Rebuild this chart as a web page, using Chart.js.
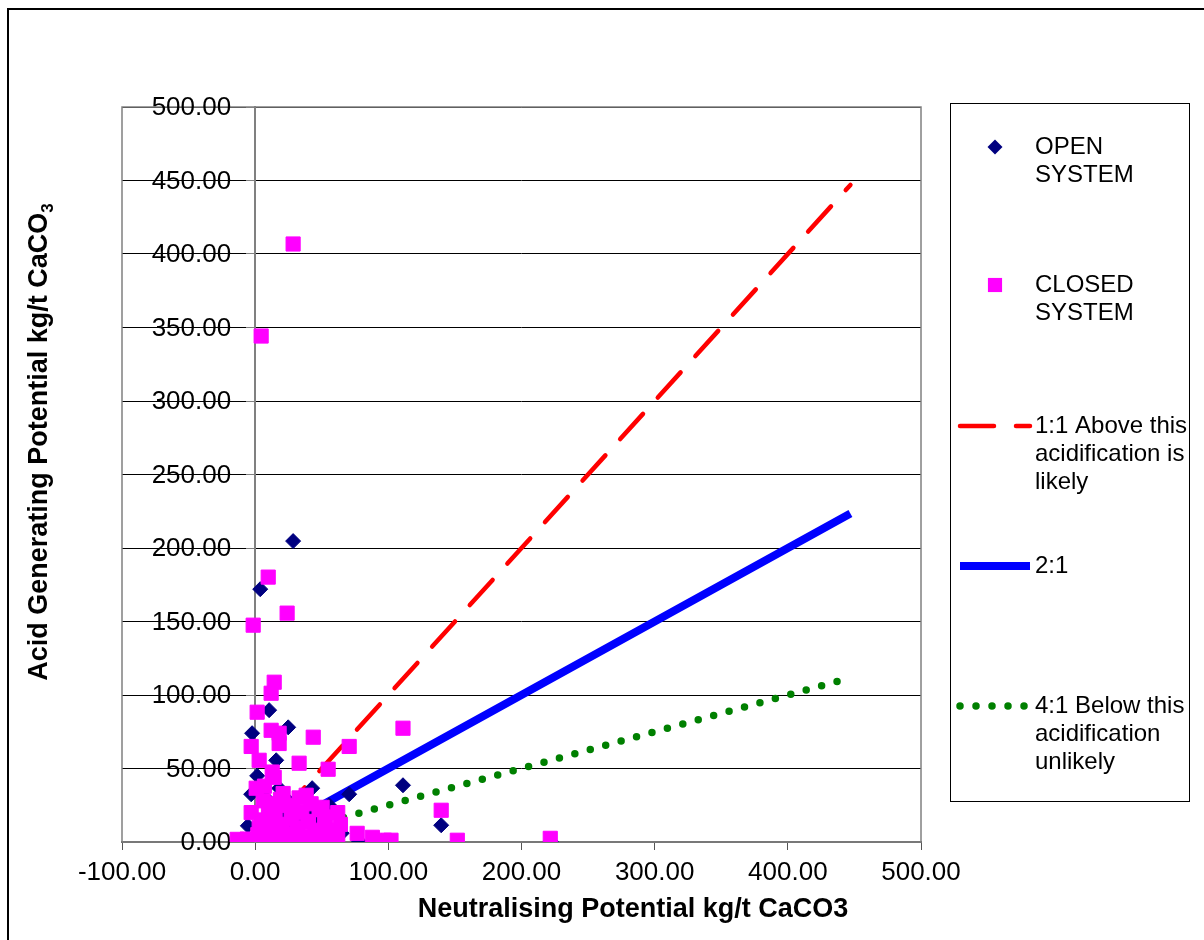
<!DOCTYPE html>
<html lang="en">
<head>
<meta charset="UTF-8">
<title>Acid Generating vs Neutralising Potential</title>
<script src="https://cdn.jsdelivr.net/npm/chart.js"></script>
<style>
  body { margin: 0; background: #fff; }
  #wrap { position: relative; width: 1204px; height: 940px; }
</style>
</head>
<body>
<div id="wrap"><canvas id="abaChart"></canvas></div>
<script>
// Neutralising potential (x) and acid generating potential (y), kg/t CaCO3
const openNP = [28.5, 3.8, 10.5, 24.8, -2.3, 15.8, 1.5, -3, 18, 42.8, 70.6, 111, 139.7, 55.6,
  -5.5, 29, 46, 78, 222, 19.5, 5, 10, 20, 35, 50, 15, 25, 0, 60, 40, 8, 32, 65, 95, 45, 22];
const openAGP = [204.7, 172, 89.7, 78, 74, 55.6, 45, 32.5, 36.6, 36.6, 32.5, 38.6, 11.4, 25,
  11, 15, 12, 0.5, 0.5, 30, 10, 3, 8, 5, 15, 22, 28, 3, 2, 20, 30, 1, 6, 0.5, 4, 18];

const closedNP = [28.5, 4.5, 9.8, -1.5, 24, 14.3, 12, 1.5, 12, 18, 18, -3, 43.6, 70.6, 33, 3,
  54.8, 111, 12.8, 14.3, 0.75, 38.3, 50.3, 139.7, -13.5, 76.6, 88, 97, 102, 151.8, 221.6, 57.8,
  -3, 2, 5, 8, 10, 12, 15, 18, 20, 22, 25, 27, 30, 32, 35, 38, 40, 43, 45, 48, 50, 53, 55, 58,
  -6, 0, 3, 6, 14, 16, 24, 28, 36, 42, 60, 47, 52, 11, 19, 33, 7, 21, 62, 64, 62];
const closedAGP = [406.8, 344.2, 180.2, 147.5, 155.7, 108.7, 101.2, 88.3, 76, 74, 67, 65, 71.3, 65, 53.6, 55.6,
  49.5, 77.4, 47.6, 44, 36.6, 31.8, 23.6, 21.6, 1.8, 5.9, 3.2, 1.2, 1.2, 1.2, 2.5, 8,
  20, 5, 15, 2, 22, 8, 18, 3, 12, 25, 6, 16, 2, 10, 20, 4, 14, 1, 8, 22, 3, 12, 1, 6,
  2, 0.5, 10, 28, 1, 26, 1, 24, 1, 26, 3, 1, 17, 13, 29, 30, 38, 33, 20, 12, 2];

// ratio guide lines (end points)
const lineNP = [20, 447];
const ratio1AGP = [20, 447];
const ratio2AGP = [10, 223.5];
const ratio4AGP = [5, 111.75];

const xMin = -100, xMax = 500, xStep = 100;
const yMin = 0, yMax = 500, yStep = 50;

const xTitle = 'Neutralising Potential kg/t CaCO3';
const yTitle = 'Acid Generating Potential kg/t CaCO';
const yTitleSub = '3';

// legend entries, in display order: dataset index + text lines
const legendOrder = [1, 0, 2, 3, 4];
const legendText = [
  ['OPEN', 'SYSTEM'],
  ['CLOSED', 'SYSTEM'],
  ['1:1 Above this', 'acidification is', 'likely'],
  ['2:1'],
  ['4:1 Below this', 'acidification', 'unlikely']
];

const FONT = '"Liberation Sans", Arial, sans-serif';
const pts = (xs, ys) => xs.map((x, i) => ({ x: x, y: ys[i] }));
const fmt = v => Number(v).toFixed(2);

Chart.defaults.font.family = FONT;
Chart.defaults.color = '#000';

const frame = {
  id: 'frame',
  beforeDraw(chart) {
    const ctx = chart.ctx;
    ctx.save();
    ctx.fillStyle = '#fff';
    ctx.fillRect(0, 0, chart.width, chart.height);
    ctx.restore();
  },
  beforeDatasetsDraw(chart) {
    const a = chart.chartArea, ctx = chart.ctx;
    ctx.save();
    ctx.strokeStyle = '#808080';
    ctx.lineWidth = 1.5;
    ctx.strokeRect(a.left, a.top, a.right - a.left, a.bottom - a.top);

    // y tick labels sit left of the axis that crosses at x = 0
    const ys = chart.scales.y, xs = chart.scales.x;
    const axisX = xs.getPixelForValue(0);
    ctx.fillStyle = '#000';
    ctx.font = '26px ' + FONT;
    ctx.textAlign = 'right';
    ctx.textBaseline = 'middle';
    ys.ticks.forEach(t => {
      ctx.fillText(fmt(t.value), axisX - 24, ys.getPixelForValue(t.value) + 1);
    });
    ctx.restore();
  },
  afterDraw(chart) {
    const ctx = chart.ctx;
    ctx.save();
    // outer border
    ctx.strokeStyle = '#000';
    ctx.lineWidth = 2;
    ctx.strokeRect(8, 9, 1400, 1100);

    // axis titles
    ctx.fillStyle = '#000';
    ctx.font = 'bold 27px ' + FONT;
    ctx.textAlign = 'center';
    ctx.textBaseline = 'middle';
    ctx.fillText(xTitle, 633, 910);

    ctx.save();
    ctx.translate(40, 442);
    ctx.rotate(-Math.PI / 2);
    const w1 = ctx.measureText(yTitle).width;
    ctx.font = 'bold 17px ' + FONT;
    const w2 = ctx.measureText(yTitleSub).width;
    const start = -(w1 + w2) / 2;
    ctx.textAlign = 'left';
    ctx.font = 'bold 27px ' + FONT;
    ctx.fillText(yTitle, start, 0);
    ctx.font = 'bold 17px ' + FONT;
    ctx.fillText(yTitleSub, start + w1, 8);
    ctx.restore();

    // legend box
    ctx.strokeStyle = '#000';
    ctx.lineWidth = 1;
    ctx.strokeRect(950.5, 103.5, 239, 698);

    const rowY = [147, 285, 426, 566, 706];
    ctx.font = '24px ' + FONT;
    ctx.textAlign = 'left';
    ctx.textBaseline = 'middle';
    legendOrder.forEach((di, k) => {
      const ds = chart.data.datasets[di];
      const y = rowY[k];
      ctx.save();
      if (ds.showLine) {
        ctx.strokeStyle = ds.borderColor;
        ctx.lineWidth = ds.borderWidth;
        ctx.lineCap = ds.borderCapStyle || 'butt';
        ctx.setLineDash(ds.borderDash || []);
        ctx.beginPath();
        ctx.moveTo(960, y);
        ctx.lineTo(1030, y);
        ctx.stroke();
      } else {
        const r = ds.pointStyle === 'rectRot' ? 7.5 : ds.pointRadius;
        ctx.fillStyle = ds.backgroundColor;
        ctx.beginPath();
        if (ds.pointStyle === 'rectRot') {
          ctx.moveTo(995, y - r);
          ctx.lineTo(995 + r, y);
          ctx.lineTo(995, y + r);
          ctx.lineTo(995 - r, y);
          ctx.closePath();
        } else {
          const h = r * Math.SQRT1_2;
          ctx.rect(995 - h, y - h, 2 * h, 2 * h);
        }
        ctx.fill();
      }
      ctx.restore();
      legendText[k].forEach((t, j) => ctx.fillText(t, 1035, y + j * 28));
    });
    ctx.restore();
  }
};

new Chart(document.getElementById('abaChart'), {
  type: 'scatter',
  data: {
    datasets: [
      {
        label: 'CLOSED SYSTEM',
        data: pts(closedNP, closedAGP),
        pointStyle: 'rect',
        pointRadius: 10,
        backgroundColor: '#ff00ff',
        borderColor: '#ff00ff',
        borderWidth: 1
      },
      {
        label: 'OPEN SYSTEM',
        data: pts(openNP, openAGP),
        pointStyle: 'rectRot',
        pointRadius: 7.5,
        backgroundColor: '#000080',
        borderColor: '#000080',
        borderWidth: 1
      },
      {
        label: '1:1 Above this acidification is likely',
        data: pts(lineNP, ratio1AGP),
        showLine: true,
        pointRadius: 0,
        borderColor: '#ff0000',
        borderWidth: 4.5,
        borderDash: [34, 22],
        borderCapStyle: 'round'
      },
      {
        label: '2:1',
        data: pts(lineNP, ratio2AGP),
        showLine: true,
        pointRadius: 0,
        borderColor: '#0000ff',
        borderWidth: 8,
        borderCapStyle: 'butt'
      },
      {
        label: '4:1 Below this acidification unlikely',
        data: pts(lineNP, ratio4AGP),
        showLine: true,
        pointRadius: 0,
        borderColor: '#008000',
        borderWidth: 7.5,
        borderDash: [0, 16],
        borderCapStyle: 'round'
      }
    ]
  },
  options: {
    responsive: true,
    maintainAspectRatio: false,
    animation: false,
    layout: { padding: { left: 122, top: 107, right: 283, bottom: 0 } },
    plugins: {
      legend: { display: false },
      tooltip: { enabled: false }
    },
    scales: {
      x: {
        type: 'linear',
        position: 'bottom',
        min: xMin,
        max: xMax,
        ticks: { stepSize: xStep, callback: fmt, font: { size: 26 }, padding: 7, maxRotation: 0 },
        grid: { drawOnChartArea: false, drawTicks: true, tickLength: 8, tickColor: '#555' },
        border: { color: '#606060', width: 2 },
        afterFit: s => { s.height = 98; }
      },
      y: {
        type: 'linear',
        position: { x: 0 },
        min: yMin,
        max: yMax,
        ticks: { stepSize: yStep, display: false },
        grid: { color: '#000', lineWidth: 1, tickLength: 8, tickColor: '#808080' },
        border: { color: '#808080', width: 2 }
      }
    }
  },
  plugins: [frame]
});
</script>
</body>
</html>
